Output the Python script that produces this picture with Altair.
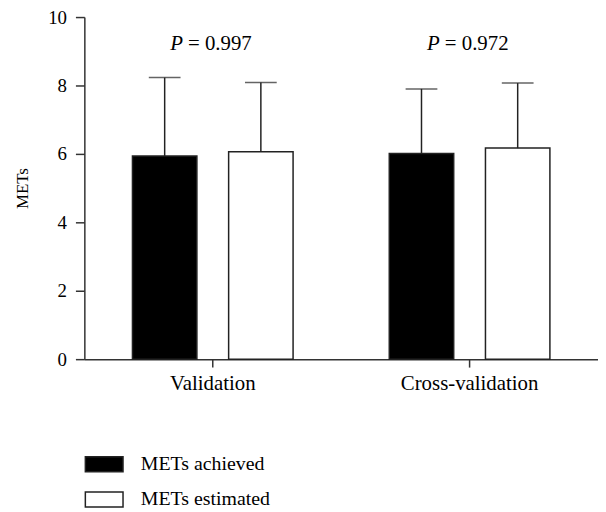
import altair as alt
import pandas as pd

groups = ["Validation", "Cross-validation"]
series = ["METs achieved", "METs estimated"]
achieved_mean = [5.94, 6.01]
estimated_mean = [6.06, 6.17]
achieved_sd = [2.29, 1.89]
estimated_sd = [2.03, 1.90]
p_values = ["0.997", "0.972"]

rows = []
for i, g in enumerate(groups):
    rows.append({"group": g, "series": series[0], "mean": achieved_mean[i],
                 "upper": achieved_mean[i] + achieved_sd[i]})
    rows.append({"group": g, "series": series[1], "mean": estimated_mean[i],
                 "upper": estimated_mean[i] + estimated_sd[i]})
df = pd.DataFrame(rows)
pdf = pd.DataFrame({"group": groups, "p": ["= " + p for p in p_values]})

FONT = "Liberation Serif"
INK = "#222222"

x_enc = alt.X("group:N", sort=groups, scale=alt.Scale(paddingInner=0, paddingOuter=0),
              axis=alt.Axis(title=None, labelAngle=0, tickSize=8, labelPadding=6,
                            labelFontSize=21))
xo_enc = alt.XOffset("series:N", sort=series,
                     scale=alt.Scale(paddingInner=0.33, paddingOuter=0.5))

base = alt.Chart(df)

bars = base.mark_bar(stroke=INK, strokeWidth=1.5).encode(
    x=x_enc,
    xOffset=xo_enc,
    y=alt.Y("mean:Q", scale=alt.Scale(domain=[0, 10], nice=False),
            axis=alt.Axis(values=[0, 2, 4, 6, 8, 10], title="METs", titleFontSize=17,
                          titleFontWeight="normal", titleFont=FONT, titlePadding=16,
                          tickSize=9, labelPadding=9)),
    fill=alt.Fill("series:N", sort=series,
                  scale=alt.Scale(domain=series, range=["black", "white"]),
                  legend=alt.Legend(title=None, orient="none", legendX=0, legendY=431,
                                    symbolType="M-1,-0.4H1V0.4H-1Z", symbolSize=1444,
                                    symbolStrokeColor=INK, symbolStrokeWidth=1.5,
                                    labelFont=FONT, labelFontSize=20, labelColor="black",
                                    labelOffset=17, rowPadding=4.5)),
)

err = base.mark_rule(color=INK, strokeWidth=1.5).encode(
    x=alt.X("group:N", sort=groups),
    xOffset=alt.XOffset("series:N", sort=series),
    y="mean:Q",
    y2="upper:Q",
)

caps = base.mark_tick(color=INK, thickness=1.5, size=32, orient="horizontal").encode(
    x=alt.X("group:N", sort=groups),
    xOffset=alt.XOffset("series:N", sort=series),
    y="upper:Q",
)

ptext = alt.Chart(pdf).mark_text(text="P", fontStyle="italic", align="left", dx=-43,
                                 font=FONT, fontSize=21, color="black").encode(
    x=alt.X("group:N", sort=groups), y=alt.datum(9.2))
vtext = alt.Chart(pdf).mark_text(align="left", dx=-25, font=FONT, fontSize=21,
                                 color="black").encode(
    x=alt.X("group:N", sort=groups), y=alt.datum(9.2), text="p:N")

chart = alt.layer(bars, err, caps, ptext, vtext).properties(
    width=518, height=345,
    autosize=alt.AutoSizeParams(type="none"),
    padding={"left": 77, "top": 7, "right": 0, "bottom": 152},
).configure_view(stroke=None).configure_axis(
    grid=False, domainColor="#333333", domainWidth=1.5, tickColor="#333333",
    tickWidth=1.5, labelFont=FONT, labelFontSize=19, labelColor="black",
)

chart.save("out.html", embed_options={"renderer": "svg", "actions": False})
